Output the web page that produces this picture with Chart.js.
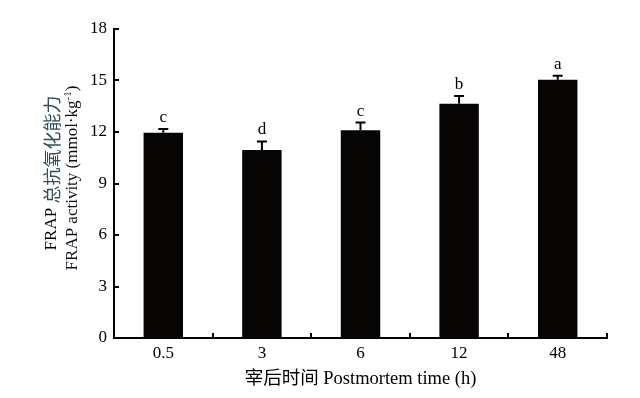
<!DOCTYPE html>
<html>
<head>
<meta charset="utf-8">
<script src="https://cdn.jsdelivr.net/npm/chart.js@4"></script>
<style>
html, body { margin: 0; background: #fff; }
#wrap { width: 640px; height: 398px; }
</style>
</head>
<body>
<div id="wrap"><canvas id="c"></canvas></div>
<script>
// postmortem time groups (h)
const times = ['0.5', '3', '6', '12', '48'];
// FRAP activity, mmol/kg
const frap = [11.95, 10.95, 12.1, 13.65, 15.05];
// upper error (SD)
const frapErr = [0.22, 0.5, 0.45, 0.45, 0.22];
// significance letters
const groupLetters = ['c', 'd', 'c', 'b', 'a'];
const yTicks = [0, 3, 6, 9, 12, 15, 18];

const serif = "'Liberation Serif', 'Noto Sans CJK SC', serif";

// error bars + letters above each bar
const errorBars = {
	id: 'errorBars',
	afterDatasetsDraw(chart) {
		const ctx = chart.ctx;
		const y = chart.scales.y;
		const meta = chart.getDatasetMeta(0);
		ctx.save();
		ctx.strokeStyle = '#000';
		ctx.lineWidth = 2;
		ctx.fillStyle = '#000';
		ctx.font = '17px ' + serif;
		ctx.textAlign = 'center';
		ctx.textBaseline = 'alphabetic';
		meta.data.forEach((bar, i) => {
			const top = y.getPixelForValue(frap[i] + frapErr[i]);
			ctx.beginPath();
			ctx.moveTo(bar.x, bar.y);
			ctx.lineTo(bar.x, top);
			ctx.moveTo(bar.x - 5, top);
			ctx.lineTo(bar.x + 5, top);
			ctx.stroke();
			ctx.fillText(groupLetters[i], bar.x, top - 7);
		});
		ctx.restore();
	}
};

// inward tick marks
const innerTicks = {
	id: 'innerTicks',
	afterDraw(chart) {
		const ctx = chart.ctx;
		const {x, y} = chart.scales;
		const area = chart.chartArea;
		ctx.save();
		ctx.strokeStyle = '#000';
		ctx.lineWidth = 2;
		ctx.beginPath();
		yTicks.forEach(v => {
			const py = Math.round(y.getPixelForValue(v));
			ctx.moveTo(area.left, py);
			ctx.lineTo(area.left + 5, py);
		});
		const step = x.getPixelForValue(1) - x.getPixelForValue(0);
		times.forEach((t, i) => {
			const px = Math.round(x.getPixelForValue(i) + step / 2);
			ctx.moveTo(px, area.bottom);
			ctx.lineTo(px, area.bottom - 5);
		});
		ctx.stroke();
		ctx.restore();
	}
};

// two-line y title, Chinese part in a different colour
const yTitle = {
	id: 'yTitle',
	afterDraw(chart) {
		const ctx = chart.ctx;
		ctx.save();
		ctx.textBaseline = 'middle';
		ctx.textAlign = 'left';

		// line 1
		const a = 'FRAP ', b = '总抗氧化能力';
		ctx.font = '17px ' + serif;
		const wa = ctx.measureText(a).width;
		ctx.font = "18px 'Noto Sans CJK SC'";
		const wb = ctx.measureText(b).width;
		ctx.translate(52, 173);
		ctx.rotate(-Math.PI / 2);
		let sx = -(wa + wb) / 2;
		ctx.font = '17px ' + serif;
		ctx.fillStyle = '#000';
		ctx.fillText(a, sx, 0);
		ctx.font = "18px 'Noto Sans CJK SC'";
		ctx.fillStyle = '#2e4d5e';
		ctx.fillText(b, sx + wa, 0);
		ctx.restore();

		// line 2
		ctx.save();
		ctx.textBaseline = 'middle';
		ctx.textAlign = 'left';
		const c = 'FRAP activity (mmol·kg', sup = '-1', d = ')';
		ctx.font = '17px ' + serif;
		const wc = ctx.measureText(c).width;
		const wd = ctx.measureText(d).width;
		ctx.font = '11px ' + serif;
		const ws = ctx.measureText(sup).width;
		ctx.translate(73, 178);
		ctx.rotate(-Math.PI / 2);
		sx = -(wc + ws + wd) / 2;
		ctx.fillStyle = '#0b1018';
		ctx.font = '17px ' + serif;
		ctx.fillText(c, sx, 0);
		ctx.font = '11px ' + serif;
		ctx.fillText(sup, sx + wc, -5);
		ctx.font = '17px ' + serif;
		ctx.fillText(d, sx + wc + ws, 0);
		ctx.restore();
	}
};

new Chart(document.getElementById('c'), {
	type: 'bar',
	data: {
		labels: times,
		datasets: [{
			data: frap,
			backgroundColor: '#070404',
			borderWidth: 0,
			categoryPercentage: 0.8,
			barPercentage: 0.5
		}]
	},
	options: {
		responsive: true,
		maintainAspectRatio: false,
		animation: false,
		layout: { padding: { top: 29, right: 33, left: 0, bottom: 0 } },
		plugins: {
			legend: { display: false },
			tooltip: { enabled: false }
		},
		scales: {
			x: {
				afterFit: s => { s.height = 60; },
				grid: { display: false, drawTicks: false },
				border: { display: true, color: '#000', width: 2 },
				ticks: { color: '#000', padding: 5, font: { size: 17, family: serif } },
				title: {
					display: true,
					text: '宰后时间 Postmortem time (h)',
					color: '#000',
					font: { size: 18.5, family: serif },
					padding: { top: 8, bottom: 8 }
				}
			},
			y: {
				min: 0,
				max: 18,
				afterFit: s => { s.width = 114; },
				grid: { display: false, drawTicks: false },
				border: { display: true, color: '#000', width: 2 },
				ticks: { stepSize: 3, color: '#000', padding: 7, font: { size: 17, family: serif } }
			}
		}
	},
	plugins: [errorBars, innerTicks, yTitle]
});
</script>
</body>
</html>
